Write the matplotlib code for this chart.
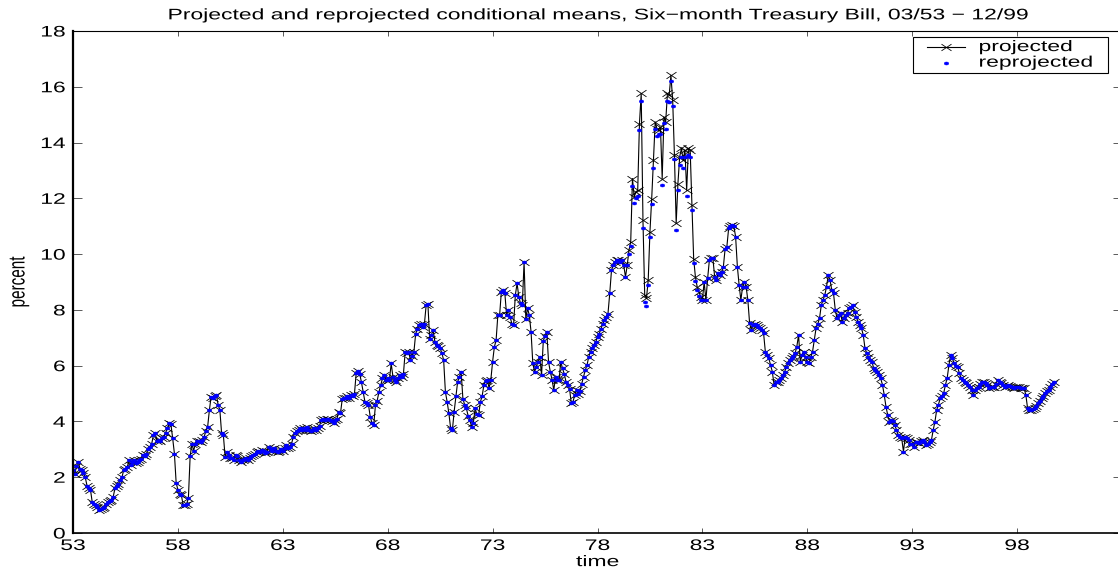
import numpy as np
import matplotlib
matplotlib.use('Agg')
import matplotlib.pyplot as plt
from matplotlib.patheffects import AbstractPathEffect
from matplotlib.transforms import Affine2D
from matplotlib.path import Path
from matplotlib.patches import Rectangle
from matplotlib.lines import Line2D

# Six-month T-bill, projected conditional means, monthly, one row per year
rates_1950s = [
    2.25, 2.1, 2.4, 2.55, 2.3, 2.25, 2.15, 2.0, 1.7, 1.6, 1.55, 1.1,        # 53
    1.05, 1.0, 0.95, 0.82, 0.85, 0.9, 0.95, 1.05, 1.1, 1.15, 1.2, 1.3,      # 54
    1.6, 1.7, 1.75, 1.9, 2.0, 2.25, 2.3, 2.35, 2.6, 2.45, 2.55, 2.6,        # 55
    2.5, 2.55, 2.6, 2.65, 2.8, 2.75, 2.85, 3.0, 3.1, 3.2, 3.5, 3.6,         # 56
    3.3, 3.35, 3.3, 3.4, 3.45, 3.6, 3.75, 3.93, 3.9, 3.4, 2.85, 1.8,        # 57
    1.55, 1.4, 1.35, 1.0, 1.0, 1.05, 1.25, 2.75, 3.2, 2.95, 3.2, 3.3,       # 58
    3.3, 3.25, 3.35, 3.45, 3.65, 3.8, 4.4, 4.89, 4.85, 4.9, 4.95, 4.6,      # 59
]
rates_1960s = [
    4.41, 3.57, 3.51, 2.74, 2.91, 2.8, 2.68, 2.7, 2.62, 2.8, 2.75, 2.6,     # 60
    2.56, 2.6, 2.65, 2.68, 2.6, 2.7, 2.75, 2.8, 2.85, 2.91, 2.95, 2.9,      # 61
    2.97, 2.95, 2.86, 2.9, 3.09, 3.0, 2.95, 3.03, 2.95, 2.91, 2.95, 3.0,    # 62
    2.95, 3.05, 3.15, 3.05, 3.1, 3.2, 3.45, 3.6, 3.65, 3.7, 3.75, 3.7,      # 63
    3.75, 3.7, 3.8, 3.7, 3.65, 3.7, 3.75, 3.7, 3.75, 3.85, 4.05, 4.1,       # 64
    4.05, 4.1, 4.1, 4.05, 4.0, 3.95, 4.05, 4.1, 4.35, 4.3, 4.8, 4.85,       # 65
    4.85, 4.9, 4.85, 4.95, 4.9, 5.0, 5.75, 5.8, 5.7, 5.4, 5.05, 4.7,        # 66
    4.65, 4.6, 4.17, 3.95, 3.87, 4.59, 4.75, 5.06, 5.3, 5.54, 5.66, 5.48,   # 67
    5.55, 5.5, 6.08, 5.6, 5.5, 5.42, 5.55, 5.66, 5.6, 5.7, 6.5, 6.45,       # 68
    6.5, 6.2, 6.35, 6.5, 7.15, 7.3, 7.45, 7.5, 7.4, 7.5, 8.17, 8.2,         # 69
]
rates_1970s = [
    6.97, 7.1, 7.27, 6.85, 6.74, 6.7, 6.62, 6.45, 6.2, 5.06, 4.7, 4.29,     # 70
    3.75, 3.69, 4.35, 4.9, 5.42, 5.6, 5.78, 4.82, 4.6, 4.47, 4.2, 4.05,     # 71
    3.81, 3.95, 4.47, 4.25, 4.23, 4.7, 4.9, 5.3, 5.45, 5.48, 5.2, 5.5,      # 72
    6.14, 6.67, 6.91, 7.81, 7.8, 8.65, 8.7, 8.6, 7.81, 7.99, 7.75, 7.51,    # 73
    7.45, 8.53, 8.95, 8.47, 8.23, 8.17, 9.72, 7.69, 8.05, 7.81, 7.21, 6.08, # 74
    5.78, 5.96, 6.14, 6.32, 5.66, 6.9, 7.05, 7.21, 6.14, 5.78, 5.5, 5.12,   # 75
    5.6, 5.5, 5.48, 6.14, 5.9, 5.7, 5.42, 5.3, 5.18, 4.65, 4.71, 4.95,      # 76
    5.12, 5.0, 5.1, 5.36, 5.6, 5.84, 6.02, 6.32, 6.5, 6.62, 6.75, 6.85,     # 77
    7.03, 7.15, 7.33, 7.5, 7.63, 7.75, 7.87, 8.59, 9.42, 9.6, 9.72, 9.8,    # 78
    9.78, 9.7, 9.78, 9.6, 9.18, 9.6, 10.14, 10.44, 12.71, 12.05, 12.23, 12.29,  # 79
]
rates_1980s = [
    14.68, 15.76, 11.22, 8.53, 8.41, 9.06, 10.8, 11.99, 13.37, 14.74, 14.5, 14.44,  # 80
    14.56, 12.71, 14.92, 14.74, 15.76, 15.7, 16.41, 15.52, 13.55, 11.1, 12.53, 13.49,  # 81
    13.79, 13.37, 13.73, 12.29, 13.79, 13.73, 11.75, 9.84, 9.18, 8.83, 8.65, 8.47,  # 82
    8.35, 9.01, 8.35, 9.13, 9.79, 9.85, 9.85, 9.19, 9.07, 9.31, 9.25, 9.37,  # 83
    9.55, 10.2, 10.27, 10.92, 11.0, 11.04, 11.0, 10.62, 9.55, 8.89, 8.35, 8.83,  # 84
    9.01, 8.83, 8.35, 7.52, 7.28, 7.46, 7.5, 7.46, 7.4, 7.35, 7.28, 7.16,   # 85
    6.5, 6.38, 6.26, 6.02, 5.78, 5.31, 5.4, 5.43, 5.5, 5.54, 5.65, 5.78,    # 86
    5.95, 6.08, 6.2, 6.26, 6.35, 6.44, 6.68, 7.1, 6.14, 6.38, 6.5, 6.3,     # 87
    6.14, 6.08, 6.3, 6.5, 6.92, 7.34, 7.5, 7.7, 8.17, 8.35, 8.53, 8.83,     # 88
    9.25, 9.07, 8.71, 8.59, 8.0, 7.7, 7.8, 7.88, 7.58, 7.7, 7.82, 7.9,      # 89
]
rates_1990s = [
    8.05, 8.1, 8.17, 7.94, 7.75, 7.58, 7.45, 7.34, 7.1, 6.62, 6.45, 6.32,   # 90
    6.2, 6.14, 5.9, 5.85, 5.78, 5.65, 5.54, 5.31, 4.95, 4.53, 4.23, 3.99,   # 91
    4.05, 4.0, 3.87, 3.7, 3.51, 3.45, 3.39, 2.92, 3.45, 3.4, 3.33, 3.2,     # 92
    3.2, 3.1, 3.25, 3.28, 3.22, 3.3, 3.33, 3.25, 3.16, 3.2, 3.28, 3.33,     # 93
    3.69, 3.99, 4.41, 4.6, 4.83, 4.9, 5.01, 5.31, 5.55, 6.02, 6.38, 6.26,   # 94
    6.08, 6.0, 5.96, 5.72, 5.55, 5.5, 5.43, 5.37, 5.3, 5.25, 5.13, 4.95,    # 95
    5.13, 5.2, 5.25, 5.35, 5.43, 5.4, 5.37, 5.3, 5.19, 5.22, 5.25, 5.25,    # 96
    5.35, 5.49, 5.4, 5.37, 5.3, 5.25, 5.28, 5.31, 5.28, 5.25, 5.19, 5.22,   # 97
    5.25, 5.22, 5.19, 5.2, 5.19, 4.95, 4.47, 4.42, 4.41, 4.45, 4.47, 4.55,  # 98
    4.65, 4.75, 4.83, 4.92, 5.01, 5.08, 5.13, 5.25, 5.35, 5.43,             # 99
]

# reprojected means: same as projected except in the volatile 79-82 stretch
reproj_start_year, reproj_start_month = 79, 7
reproj_79_82 = [
    10.0, 10.3, 12.45, 11.85, 12.0, 12.1,
    14.44, 15.5, 10.92, 8.29, 8.15, 8.89, 10.6, 11.8, 13.1, 14.5, 14.25, 14.3,
    14.3, 12.47, 14.7, 14.5, 15.5, 15.45, 16.2, 15.3, 13.4, 10.86, 12.3, 13.2,
    13.5, 13.1, 13.5, 12.1, 13.55, 13.5, 11.57, 9.69, 9.05, 8.7, 8.5, 8.35,
]

xticks = [53, 58, 63, 68, 73, 78, 83, 88, 93, 98]
yticks = [0, 2, 4, 6, 8, 10, 12, 14, 16, 18]

projected = np.array(rates_1950s + rates_1960s + rates_1970s + rates_1980s + rates_1990s)
time = 53 + np.arange(len(projected)) / 12.0

reprojected = projected.copy()
k0 = (reproj_start_year - 53) * 12 + reproj_start_month - 1
reprojected[k0:k0 + len(reproj_79_82)] = reproj_79_82

STRETCH = 1.5
FS = 11


class StretchX(AbstractPathEffect):
    # the reference png was widened, so glyphs are drawn wider than tall
    def __init__(self, anchor='center', k=STRETCH):
        super().__init__()
        self.anchor = anchor
        self.k = k

    def draw_path(self, renderer, gc, tpath, affine, rgbFace=None):
        ext = tpath.get_extents(affine)
        if self.anchor == 'left':
            cx = ext.x0
        elif self.anchor == 'right':
            cx = ext.x1
        else:
            cx = (ext.x0 + ext.x1) / 2
        tr = affine + Affine2D().translate(-cx, 0).scale(self.k, 1).translate(cx, 0)
        renderer.draw_path(gc, tpath, tr, rgbFace)


# wide markers too
xmark = Path([(-1.5, -1), (1.5, 1), (-1.5, 1), (1.5, -1)],
             [Path.MOVETO, Path.LINETO, Path.MOVETO, Path.LINETO])
dotmark = Path.unit_circle().transformed(Affine2D().scale(1.5, 1))

plt.rcParams['font.family'] = ['Liberation Sans', 'DejaVu Sans']

fig = plt.figure(figsize=(11.18, 5.74), dpi=100)
ax = fig.add_axes([73 / 1118, 41 / 574, 1049 / 1118, 502 / 574])

ax.plot(time, projected, color='k', lw=0.8, marker=xmark, ms=7.2,
        mfc='none', mec='k', mew=0.6)
ax.plot(time, reprojected, ls='none', marker=dotmark, ms=3.3,
        mfc='blue', mec='blue', mew=0.3)

ax.set_xlim(53, 103)
ax.set_ylim(0, 18)
ax.set_xticks(xticks)
ax.set_yticks(yticks)

ax.tick_params(direction='in', top=True, right=True, labelsize=FS,
               width=0.6, color='0.25')
ax.tick_params(axis='x', length=3.6, pad=4.3)
ax.tick_params(axis='y', length=6.5, pad=5.5)
for t in ax.xaxis.get_major_ticks():
    t.label1.set_path_effects([StretchX('center')])
for t in ax.yaxis.get_major_ticks():
    t.label1.set_path_effects([StretchX('right')])

ax.spines['left'].set_linewidth(1.6)
ax.spines['bottom'].set_linewidth(1.2)
ax.spines['top'].set_linewidth(0.8)
ax.spines['right'].set_linewidth(0.8)

ax.set_title('Projected and reprojected conditional means, Six\u2212month Treasury Bill, 03/53 \u2212 12/99',
             fontsize=FS, pad=8.4, path_effects=[StretchX()])
ax.set_xlabel('time', fontsize=FS, path_effects=[StretchX()])
ax.xaxis.set_label_coords(0.5, -0.044)
ax.set_ylabel('percent', fontsize=FS, path_effects=[StretchX()])
ax.yaxis.set_label_coords(-0.045, 0.5)

# legend box (drawn by hand so the box fits the widened text)
ax.add_patch(Rectangle((0.8008, 0.9163), 0.1859, 0.0717, transform=ax.transAxes,
                       facecolor='white', edgecolor='black', lw=0.8, zorder=5))
ax.add_line(Line2D([0.8141, 0.8503], [0.968, 0.968], transform=ax.transAxes,
                   color='k', lw=0.8, zorder=6))
ax.add_line(Line2D([0.8322], [0.968], transform=ax.transAxes, ls='none',
                   marker=xmark, ms=7.2, mfc='none', mec='k', mew=0.6, zorder=6))
ax.add_line(Line2D([0.8322], [0.9369], transform=ax.transAxes, ls='none',
                   marker=dotmark, ms=3.3, mfc='blue', mec='blue', mew=0.3, zorder=6))
ax.text(0.8637, 0.968, 'projected', transform=ax.transAxes, va='center', ha='left',
        fontsize=FS, path_effects=[StretchX('left')], zorder=6)
ax.text(0.8637, 0.9369, 'reprojected', transform=ax.transAxes, va='center', ha='left',
        fontsize=FS, path_effects=[StretchX('left')], zorder=6)

fig.savefig('out.png', dpi=100)
